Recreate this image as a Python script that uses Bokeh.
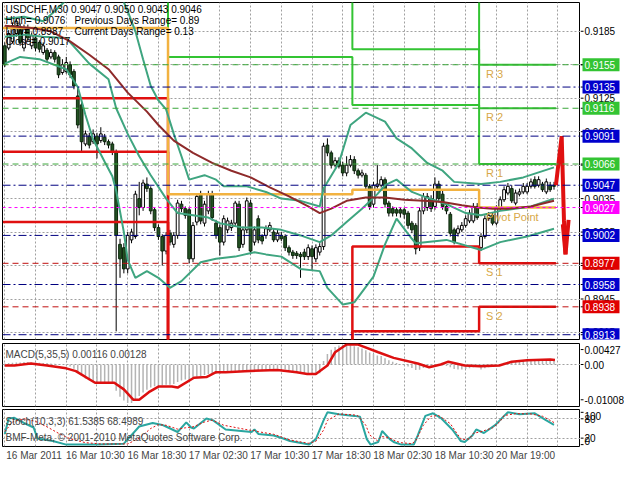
from bokeh.plotting import figure
from bokeh.layouts import column, row
from bokeh.models import Range1d, LinearAxis, FixedTicker, Label, Span, Grid
from bokeh.core.properties import value
from bokeh.embed import file_html
from bokeh.resources import INLINE

FONT = "Liberation Sans"
FS = "10px"

# ---------------- data ----------------
time_tick_bars = [0, 16, 32, 48, 64, 80, 96, 112, 128]
time_tick_labels = ["16 Mar 2011", "16 Mar 10:30", "16 Mar 18:30", "17 Mar 02:30",
                    "17 Mar 10:30", "17 Mar 18:30", "18 Mar 02:30", "18 Mar 10:30", "20 Mar 19:00"]
grid_bars = [0, 8, 16, 24, 32, 40, 48, 56, 64, 72, 80, 88, 96, 104, 112, 120, 128, 136, 144]
price_ticks = [0.9185, 0.9155, 0.9125, 0.9095, 0.9065, 0.9035, 0.9005, 0.8975, 0.8945, 0.8915]

opens = [0.9172,0.9170,0.9176,0.9183,0.9189,0.9170,0.9188,0.9172,0.9179,0.9175,
         0.9166,0.9168,0.9162,0.9166,0.9162,0.9148,0.9149,0.9155,0.9149,0.9127,
         0.9119,0.9084,0.9091,0.9086,0.9091,0.9087,0.9090,0.9086,0.9084,0.9077,
         0.8994,0.8991,0.8972,0.8998,0.9001,0.9035,0.9027,0.9048,0.9044,0.9025,
         0.9009,0.9001,0.8988,0.9004,0.8994,0.9002,0.9030,0.9026,0.9025,0.8981,
         0.9014,0.9039,0.9013,0.9024,0.9039,0.9013,0.9009,0.8996,0.9007,0.9009,
         0.9013,0.9030,0.8994,0.9007,0.9031,0.8996,0.9017,0.9001,0.9002,0.9007,
         0.9005,0.8998,0.9002,0.9001,0.8991,0.8987,0.8986,0.8985,0.8987,0.8983,
         0.8990,0.8981,0.8987,0.8992,0.9083,0.9076,0.9065,0.9069,0.9065,0.9058,
         0.9065,0.9070,0.9060,0.9056,0.9056,0.9046,0.9030,0.9046,0.9047,0.9052,
         0.9031,0.9026,0.9025,0.9025,0.9025,0.9022,0.9013,0.9011,0.8991,0.9024,
         0.9027,0.9035,0.9028,0.9048,0.9039,0.9028,0.9021,0.9007,0.9004,0.9007,
         0.9011,0.9015,0.9015,0.9028,0.8991,0.9001,0.9017,0.9020,0.9013,0.9026,
         0.9034,0.9040,0.9044,0.9031,0.9039,0.9041,0.9041,0.9046,0.9052,0.9047,
         0.9048,0.9041,0.9047,0.9047]
highs = [0.9175,0.9186,0.9193,0.9197,0.9192,0.9191,0.9191,0.9184,0.9182,0.9177,
         0.9175,0.9170,0.9169,0.9168,0.9164,0.9160,0.9162,0.9158,0.9151,0.9135,
         0.9121,0.9096,0.9094,0.9097,0.9094,0.9099,0.9093,0.9088,0.9086,0.9079,
         0.8999,0.8995,0.9005,0.9008,0.9042,0.9050,0.9052,0.9054,0.9046,0.9027,
         0.9012,0.9003,0.9005,0.9007,0.9005,0.9034,0.9033,0.9028,0.9027,0.9014,
         0.9040,0.9042,0.9033,0.9042,0.9042,0.9016,0.9012,0.9020,0.9018,0.9016,
         0.9033,0.9033,0.9010,0.9036,0.9034,0.9010,0.9020,0.9003,0.9011,0.9014,
         0.9008,0.9007,0.9005,0.9003,0.8993,0.8989,0.8988,0.8987,0.8990,0.8994,
         0.8993,0.8994,0.8995,0.9085,0.9089,0.9078,0.9072,0.9072,0.9068,0.9073,
         0.9074,0.9073,0.9062,0.9061,0.9058,0.9048,0.9050,0.9065,0.9055,0.9054,
         0.9033,0.9028,0.9027,0.9027,0.9027,0.9024,0.9015,0.9013,0.9027,0.9040,
         0.9040,0.9038,0.9054,0.9051,0.9042,0.9030,0.9023,0.9009,0.9011,0.9014,
         0.9020,0.9025,0.9031,0.9031,0.9004,0.9020,0.9023,0.9023,0.9029,0.9037,
         0.9046,0.9049,0.9047,0.9043,0.9044,0.9049,0.9049,0.9053,0.9055,0.9055,
         0.9050,0.9053,0.9050,0.9050]
lows = [0.9153,0.9168,0.9174,0.9180,0.9172,0.9167,0.9176,0.9169,0.9167,0.9166,
        0.9164,0.9157,0.9160,0.9157,0.9143,0.9146,0.9147,0.9143,0.9133,0.9098,
        0.9076,0.9082,0.9080,0.9084,0.9071,0.9085,0.9083,0.9080,0.9074,0.8916,
        0.8964,0.8968,0.8968,0.8995,0.8999,0.9020,0.9024,0.9041,0.9021,0.9006,
        0.8998,0.8975,0.8985,0.8993,0.8991,0.8999,0.9023,0.9017,0.8977,0.8978,
        0.9011,0.9012,0.9010,0.9021,0.9015,0.8999,0.8984,0.8993,0.9004,0.9006,
        0.9010,0.8988,0.8991,0.9004,0.8985,0.8993,0.8995,0.8994,0.8999,0.9005,
        0.8996,0.8996,0.8997,0.8988,0.8984,0.8981,0.8981,0.8964,0.8980,0.8980,
        0.8971,0.8978,0.8984,0.8989,0.9073,0.9062,0.9063,0.9062,0.9055,0.9055,
        0.9063,0.9057,0.9053,0.9054,0.9043,0.9025,0.9027,0.9044,0.9045,0.9027,
        0.9019,0.9019,0.9019,0.9018,0.9017,0.9008,0.9004,0.8985,0.8988,0.9021,
        0.9024,0.9023,0.9025,0.9032,0.9025,0.9021,0.9001,0.8994,0.9001,0.9005,
        0.9009,0.9013,0.9013,0.9016,0.8988,0.8999,0.9015,0.9011,0.9011,0.9024,
        0.9032,0.9038,0.9031,0.9029,0.9037,0.9039,0.9039,0.9044,0.9044,0.9045,
        0.9041,0.9039,0.9041,0.9043]
closes = [0.9155,0.9183,0.9190,0.9194,0.9175,0.9188,0.9179,0.9181,0.9170,0.9169,
          0.9172,0.9160,0.9166,0.9160,0.9146,0.9155,0.9157,0.9146,0.9136,0.9101,
          0.9086,0.9093,0.9083,0.9093,0.9084,0.9093,0.9086,0.9083,0.9077,0.9002,
          0.8981,0.8972,0.9002,0.9005,0.9039,0.9027,0.9049,0.9044,0.9024,0.9009,
          0.9001,0.8988,0.9002,0.8996,0.9002,0.9031,0.9026,0.9020,0.8981,0.9011,
          0.9037,0.9015,0.9030,0.9039,0.9018,0.9002,0.8996,0.9017,0.9015,0.9013,
          0.9031,0.8991,0.9007,0.9033,0.8988,0.9007,0.8998,0.8997,0.9008,0.9011,
          0.8998,0.9004,0.8999,0.8991,0.8987,0.8984,0.8984,0.8983,0.8983,0.8991,
          0.8983,0.8991,0.8992,0.9082,0.9076,0.9065,0.9069,0.9064,0.9058,0.9065,
          0.9070,0.9060,0.9056,0.9058,0.9046,0.9028,0.9047,0.9048,0.9052,0.9030,
          0.9022,0.9022,0.9022,0.9022,0.9021,0.9011,0.9007,0.8990,0.9024,0.9037,
          0.9037,0.9026,0.9048,0.9035,0.9028,0.9024,0.9004,0.8996,0.9008,0.9011,
          0.9017,0.9022,0.9028,0.9018,0.9001,0.9017,0.9020,0.9013,0.9026,0.9034,
          0.9043,0.9046,0.9033,0.9040,0.9041,0.9046,0.9046,0.9050,0.9046,0.9052,
          0.9043,0.9050,0.9043,0.9046]

# moving average (brown)
ma_bar = [0, 7, 12, 17, 22, 27, 32, 37, 40, 44, 49, 54, 59, 64, 69, 74, 79, 82, 85, 89,
          94, 99, 104, 109, 114, 119, 123, 127, 131, 137, 143]
ma_val = [0.9190, 0.9188, 0.9185, 0.9176, 0.9164, 0.9151, 0.9130, 0.9113, 0.9101, 0.9087,
          0.9076, 0.9067, 0.9060, 0.9054, 0.9045, 0.9037, 0.9028, 0.9022, 0.9026, 0.9033,
          0.9036, 0.9036, 0.9034, 0.9033, 0.9032, 0.9029, 0.9027, 0.9026, 0.9026, 0.9028, 0.9033]

# Bollinger bands
bb_up_bar = [0, 5, 10, 13, 16, 18, 29, 31, 32, 34, 36, 38, 40, 42, 44, 46, 48, 52, 55, 57,
             63, 68, 72, 77, 82, 83, 87, 90, 94, 99, 102, 106, 110, 114, 117, 124, 129, 135, 143]
bb_up_val = [0.9196, 0.9198, 0.9194, 0.9203, 0.9213, 0.9235, 0.9235, 0.9211, 0.9203, 0.9185,
             0.9160, 0.9136, 0.9123, 0.9115, 0.9093, 0.9073, 0.9052, 0.9056, 0.9052, 0.9046,
             0.9046, 0.9041, 0.9035, 0.9033, 0.9028, 0.9044, 0.9067, 0.9101, 0.9112, 0.9104,
             0.9089, 0.9080, 0.9067, 0.9060, 0.9050, 0.9048, 0.9050, 0.9054, 0.9063]
bb_mid_bar = [0, 5, 10, 16, 22, 27, 29, 32, 35, 38, 42, 45, 49, 53, 56, 62, 67, 72, 77, 82,
              85, 89, 93, 97, 99, 102, 106, 109, 115, 120, 124, 129, 137, 143]
bb_mid_val = [0.9180, 0.9182, 0.9180, 0.9179, 0.9156, 0.9142, 0.9116, 0.9093, 0.9073, 0.9056,
              0.9035, 0.9022, 0.9020, 0.9018, 0.9013, 0.9009, 0.9009, 0.9007, 0.9002, 0.8996,
              0.9002, 0.9014, 0.9026, 0.9039, 0.9047, 0.9052, 0.9041, 0.9037, 0.9030, 0.9022,
              0.9020, 0.9024, 0.9028, 0.9035]
bb_low_bar = [0, 4, 9, 16, 19, 21, 23, 26, 28, 29, 31, 32, 34, 37, 40, 43, 46, 51, 55, 60,
              65, 68, 72, 77, 82, 84, 88, 91, 96, 99, 102, 106, 107, 115, 124, 129, 136, 143]
bb_low_val = [0.9156, 0.9162, 0.9160, 0.9151, 0.9135, 0.9110, 0.9088, 0.9068, 0.9055, 0.9042,
              0.9005, 0.8980, 0.8964, 0.8970, 0.8964, 0.8955, 0.8961, 0.8978, 0.8981, 0.8983,
              0.8987, 0.8985, 0.8983, 0.8972, 0.8970, 0.8955, 0.8940, 0.8942, 0.8965, 0.8994,
              0.9017, 0.8999, 0.8995, 0.8998, 0.8989, 0.8996, 0.9001, 0.9008]

# daily pivot levels (value per day; off-chart levels lie outside the view)
day_start = [-0.5, 42.5, 90.5, 123.5]
day_last = 143.5
pivot_lv = [0.9188, 0.9039, 0.9043, 0.9027]
r1_lv = [0.9250, 0.9162, 0.9119, 0.9066]
r2_lv = [0.9300, 0.9250, 0.9169, 0.9116]
r3_lv = [0.9350, 0.9300, 0.9250, 0.9155]
s1_lv = [0.9125, 0.8870, 0.8992, 0.8977]
s2_lv = [0.9077, 0.8840, 0.8916, 0.8938]
s3_lv = [0.9014, 0.8810, 0.8870, 0.8870]

# horizontal price lines
navy_levels = [0.9135, 0.9091, 0.9047, 0.9002, 0.8958, 0.8913]
green_levels = [0.9155, 0.9116, 0.9066]
red_levels = [0.8977, 0.8938]
magenta_levels = [0.9027]

# forecast arrow
fc_bar = [143.5, 145, 145.6, 146]
fc_val = [0.9047, 0.9091, 0.9015, 0.8985]
fc_head_bar = [145.3, 146, 146.8]
fc_head_val = [0.9012, 0.8985, 0.9016]

# MACD
macd_hist = [0.0003,0.0004,0.0005,0.0006,0.0006,0.0007,0.0007,0.0006,0.0006,0.0005,
             0.0004,0.0004,0.0003,0.0002,0.0001,0.0000,-0.0002,-0.0006,-0.0012,-0.0022,
             -0.0032,-0.0040,-0.0045,-0.0049,-0.0052,-0.0054,-0.0055,-0.0055,-0.0056,-0.0075,
             -0.0092,-0.0103,-0.0110,-0.0110,-0.0100,-0.0090,-0.0080,-0.0072,-0.0066,-0.0062,
             -0.0060,-0.0060,-0.0058,-0.0058,-0.0056,-0.0050,-0.0046,-0.0043,-0.0045,-0.0040,
             -0.0035,-0.0033,-0.0030,-0.0027,-0.0026,-0.0027,-0.0027,-0.0024,-0.0022,-0.0021,
             -0.0018,-0.0019,-0.0019,-0.0016,-0.0017,-0.0016,-0.0016,-0.0016,-0.0014,-0.0013,
             -0.0013,-0.0012,-0.0012,-0.0014,-0.0017,-0.0020,-0.0023,-0.0025,-0.0027,-0.0028,
             -0.0028,-0.0027,-0.0025,0.0010,0.0030,0.0042,0.0050,0.0054,0.0056,0.0056,
             0.0055,0.0052,0.0049,0.0046,0.0041,0.0034,0.0030,0.0026,0.0024,0.0018,
             0.0012,0.0008,0.0004,0.0001,-0.0002,-0.0006,-0.0010,-0.0016,-0.0015,-0.0010,
             -0.0007,-0.0006,-0.0002,-0.0002,-0.0003,-0.0004,-0.0008,-0.0013,-0.0014,-0.0014,
             -0.0013,-0.0011,-0.0008,-0.0007,-0.0014,-0.0011,-0.0008,-0.0007,-0.0004,0.0000,
             0.0005,0.0008,0.0008,0.0009,0.0010,0.0012,0.0013,0.0015,0.0015,0.0016,
             0.0014,0.0015,0.0013,0.00116]
macd_sig_bar = [0, 2.5, 6.75, 11, 16, 18.5, 23.5, 28.5, 31, 33.5, 35, 37.5, 40, 43.5, 45, 49.25,
                52.5, 55, 57.5, 62.5, 71, 76, 78.75, 81, 84, 86, 89, 92, 97.25, 101.25, 107.5,
                110.5, 113.5, 115.5, 119.75, 123.75, 128.75, 132, 136, 142, 143.25]
macd_sig_val = [-0.0003,-0.0003,0.0003,-0.0003,-0.0011,-0.0019,-0.0052,-0.0052,-0.0071,-0.0101,
                -0.0101,-0.0079,-0.0063,-0.0063,-0.0066,-0.0038,-0.0036,-0.0022,-0.0022,-0.0019,
                -0.0016,-0.0022,-0.0027,-0.0027,-0.0003,0.0035,0.0057,0.0057,0.0035,0.0019,
                0.0003,-0.0008,0.0000,0.0008,-0.0003,-0.0005,-0.0003,0.0008,0.0012,0.0014,0.00128]
macd_ticks = [0.00427, 0.0, -0.01008]
macd_tick_labels = ["0.00427", "0.00", "-0.01008"]

# Stochastic
stoch_bar = [0,1,2.5,5,7.5,8.5,12.5,16,20,24,31,35,38.5,41,42.5,45,47.25,48.5,49.25,52.5,
             54.25,57.5,64.25,65,66,70,72.5,74.25,79.25,81,83,84,87,91,92.5,94.25,95.25,97.25,98.25,100.25,
             101.25,103.25,106.5,107.5,109.5,111.5,113.5,116.5,118.75,119.75,121.75,122.75,124.75,127.75,
             129.75,131,134,138,141,143]
stoch_main = [33,81,83,67,53,19,11,0,0,0,3,56,67,61,53,39,69,53,50,81,
              75,47,39,47,33,28,19,11,0,17,75,100,94,89,86,17,0,8,42,17,
              8,0,0,28,89,97,83,47,11,8,28,47,36,61,86,100,94,97,75,61.5]
stoch_sig_bar = [0,2,5,8,11,14,17,21,25,32,35,38,40,42,45,47,49,52,54,57,
                 64,65,66,70,72,74,79,81,83,84,87,91,92,94,95,97,98,100,101,103,
                 106,107,109,111,113,116,118,119,121,122,124,127,129,130,133,137,140,143]
stoch_sig = [40,70,80,72,55,35,18,6,2,2,20,50,62,60,48,52,55,70,76,60,
             44,44,40,32,24,15,4,10,45,75,95,92,89,60,30,12,25,22,15,6,
             3,12,60,88,90,65,30,15,18,35,40,52,72,90,96,95,88,68.5]
stoch_ticks = [100, 80, 20, 0]

# ---------------- figures ----------------
FW = 578          # chart frame width
SW = 44           # price-scale strip width
x_range = Range1d(-0.6, 149.9)
LABEL_SHIFT = 7.6  # bars: puts the centred date label to the right of its bar


def make_fig(fh, yr, top, bottom):
    p = figure(frame_width=FW, frame_height=fh, x_range=x_range, y_range=yr,
               output_backend="svg", toolbar_location=None,
               x_axis_location=None, y_axis_location=None,
               min_border_left=2, min_border_right=0,
               min_border_top=top, min_border_bottom=bottom)
    p.grid.visible = False
    p.outline_line_color = "black"
    p.outline_line_width = 1
    p.background_fill_color = "white"
    p.border_fill_color = "white"
    p.add_layout(Grid(dimension=0, ticker=FixedTicker(ticks=grid_bars),
                      grid_line_color="#a0a0a0", grid_line_dash="2 2"))
    return p


def scale_fig(fh, yr, top, bottom, ticks, labels, boxes, baselines=None):
    s = figure(frame_width=SW, frame_height=fh, x_range=Range1d(0, SW), y_range=yr,
               output_backend="svg", toolbar_location=None,
               x_axis_location=None, y_axis_location=None,
               min_border_left=0, min_border_right=0,
               min_border_top=top, min_border_bottom=bottom)
    s.grid.visible = False
    s.outline_line_color = None
    s.background_fill_color = "white"
    s.border_fill_color = "white"
    s.segment(x0=0, x1=3, y0=ticks, y1=ticks, line_color="black", line_width=1)
    if baselines is None:
        baselines = ["middle"] * len(ticks)
    for t, lab, bl in zip(ticks, labels, baselines):
        s.text(x=[4], y=[t], text=[lab], text_font=value(FONT), text_font_size=FS,
               text_color="black", text_baseline=bl, text_align="left")
    for levels, col in boxes:
        s.segment(x0=0, x1=3, y0=levels, y1=levels, line_color="black", line_width=1)
        s.rect(x=20.5, y=levels, width=37, height=13, height_units="screen",
               fill_color=col, line_color=None)
        s.text(x=4, y=levels, text=["%.4f" % v for v in levels], text_font=value(FONT),
               text_font_size=FS, text_color="white", text_baseline="middle",
               text_align="left")
    return s


# ---- main chart ----
MFH = 337
main_yr = Range1d(0.89087, 0.92108)
main = make_fig(MFH, main_yr, 2, 3)
main.add_layout(Grid(dimension=1, ticker=FixedTicker(ticks=price_ticks),
                     grid_line_color="#a0a0a0", grid_line_dash="2 2"))

for lv in navy_levels:
    main.add_layout(Span(location=lv, dimension="width", line_color="#000080",
                         line_dash="8 3 2 3", line_width=1))
for lv in green_levels:
    main.add_layout(Span(location=lv, dimension="width", line_color="#3aa63a",
                         line_dash="6 4", line_width=1))
for lv in red_levels:
    main.add_layout(Span(location=lv, dimension="width", line_color="#c01010",
                         line_dash="6 4", line_width=1))
for lv in magenta_levels:
    main.add_layout(Span(location=lv, dimension="width", line_color="#ff00ff",
                         line_dash="3 3", line_width=1))

for txt, lv in [("R 3", r3_lv[-1]), ("R 2", r2_lv[-1]), ("R 1", r1_lv[-1]),
                ("Pivot Point", pivot_lv[-1]), ("S 1", s1_lv[-1]), ("S 2", s2_lv[-1])]:
    main.add_layout(Label(x=day_start[-1] + 1.8, y=lv, text=txt, text_font=FONT,
                          text_font_size="11px", text_color="#d8a848",
                          text_baseline="top", y_offset=-3))

bars = list(range(len(closes)))
main.segment(x0=bars, y0=lows, x1=bars, y1=highs, color="black", line_width=1)
up = [i for i in bars if closes[i] >= opens[i]]
dn = [i for i in bars if closes[i] < opens[i]]
main.vbar(x=up, width=0.72, top=[closes[i] for i in up], bottom=[opens[i] for i in up],
          fill_color="white", line_color="black", line_width=1)
main.vbar(x=dn, width=0.72, top=[opens[i] for i in dn], bottom=[closes[i] for i in dn],
          fill_color="#235223", line_color="#0c260c", line_width=1)

sx = day_start + [day_last]
for lv, col, w in [(s3_lv, "#e01010", 2.5), (s2_lv, "#e01010", 2.5), (s1_lv, "#e01010", 2.5),
                   (r3_lv, "#33c433", 2), (r2_lv, "#33c433", 2), (r1_lv, "#33c433", 2),
                   (pivot_lv, "#f2b240", 2.5)]:
    main.step(x=sx, y=lv + [lv[-1]], mode="after", line_color=col, line_width=w)

BB = "#3fa580"
main.line(bb_up_bar, bb_up_val, line_color=BB, line_width=2)
main.line(bb_mid_bar, bb_mid_val, line_color=BB, line_width=2)
main.line(bb_low_bar, bb_low_val, line_color=BB, line_width=2)
main.line(ma_bar, ma_val, line_color="#8e2a2a", line_width=2)

main.line(fc_bar, fc_val, line_color="#e01010", line_width=4)
main.line(fc_head_bar, fc_head_val, line_color="#e01010", line_width=4)

hdr = [(3, 7, "USDCHF,M30  0.9047 0.9050 0.9043 0.9046"),
       (3, 18, "High= 0.9076"), (72, 18, "Previous Days Range= 0.89"),
       (3, 29, "Low= 0.8987"), (72, 29, "Current Days Range= 0.13"),
       (3, 39, "Close= 0.9017")]
for x, dy, t in hdr:
    main.add_layout(Label(x=x, y=MFH - dy, x_units="screen", y_units="screen", text=t,
                          text_font=FONT, text_font_size=FS, text_color="black",
                          text_baseline="middle"))

main_scale = scale_fig(MFH, main_yr, 2, 3, price_ticks, ["%.4f" % t for t in price_ticks],
                       [(navy_levels, "#0000cc"), (green_levels, "#33c433"),
                        (red_levels, "#e00000"), (magenta_levels, "#ff00ff")])

# ---- MACD ----
AFH = 63
macd_yr = Range1d(-0.0120, 0.0060)
macd = make_fig(AFH, macd_yr, 1, 2)
macd.add_layout(Grid(dimension=1, ticker=FixedTicker(ticks=[0.0]),
                     grid_line_color="#a0a0a0", grid_line_dash="2 2"))
macd.segment(x0=bars, y0=[0.0] * len(bars), x1=bars, y1=macd_hist,
             line_color="#b4b4b4", line_width=1.5)
macd.line(macd_sig_bar, macd_sig_val, line_color="#dd1010", line_width=2.5)
macd.add_layout(Label(x=3, y=AFH - 11, x_units="screen", y_units="screen",
                      text="MACD(5,35,5) 0.00116 0.00128", text_font=FONT,
                      text_font_size=FS, text_baseline="middle"))
macd_scale = scale_fig(AFH, macd_yr, 1, 2, macd_ticks, macd_tick_labels, [])

# ---- Stochastic ----
SFH = 37
stoch_yr = Range1d(-5.9, 108.8)
stoch = make_fig(SFH, stoch_yr, 1, 17)
stoch.add_layout(Grid(dimension=1, ticker=FixedTicker(ticks=[80, 20]),
                      grid_line_color="#a0a0a0", grid_line_dash="2 2"))
stoch.line(stoch_bar, stoch_main, line_color="#2aa6a0", line_width=2)
stoch.line(stoch_sig_bar, stoch_sig, line_color="#e01010", line_width=1, line_dash="2 2")
stoch.add_layout(Label(x=3, y=SFH - 12, x_units="screen", y_units="screen",
                       text="Stoch(10,3,3) 61.5385 68.4989", text_font=FONT,
                       text_font_size=FS, text_baseline="middle"))
stoch.add_layout(Label(x=3, y=SFH - 28, x_units="screen", y_units="screen",
                       text="BMF-Meta, \u00a9 2001-2010 MetaQuotes Software Corp.", text_font=FONT,
                       text_font_size=FS, text_baseline="middle"))
label_pos = [b + LABEL_SHIFT for b in time_tick_bars]
xax = LinearAxis(ticker=FixedTicker(ticks=label_pos),
                 major_label_overrides={p_: l for p_, l in zip(label_pos, time_tick_labels)},
                 major_label_text_font=FONT, major_label_text_font_size=FS,
                 major_tick_in=0, major_tick_out=0, minor_tick_in=0, minor_tick_out=0,
                 axis_line_color=None, major_label_standoff=3)
stoch.add_layout(xax, "below")
stoch_scale = scale_fig(SFH, stoch_yr, 1, 17, stoch_ticks, [str(t) for t in stoch_ticks], [],
                        baselines=["top", "middle", "middle", "bottom"])

layout = column(row(main, main_scale, spacing=0),
                row(macd, macd_scale, spacing=0),
                row(stoch, stoch_scale, spacing=0), spacing=0)
open("out.html", "w").write(file_html(layout, INLINE))
